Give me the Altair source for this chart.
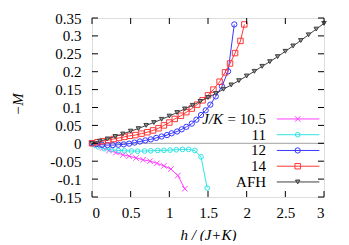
import altair as alt
import pandas as pd

# ---- data (values are -M) ----
h_105 = [0, 0.06, 0.14, 0.22, 0.31, 0.40, 0.48, 0.57, 0.66, 0.75, 0.84, 0.93, 1.02, 1.11, 1.20]
m_105 = [0, -0.006, -0.013, -0.020, -0.026, -0.032, -0.036, -0.041, -0.046, -0.050, -0.056, -0.063, -0.072, -0.090, -0.127]

h_11 = [0, 0.04, 0.08, 0.16, 0.25, 0.34, 0.42, 0.51, 0.59, 0.68, 0.76, 0.85, 0.93, 1.01, 1.09, 1.17, 1.25, 1.33, 1.41, 1.49]
m_11 = [0, -0.005, -0.010, -0.015, -0.018, -0.020, -0.021, -0.0215, -0.022, -0.0215, -0.021, -0.020, -0.0195, -0.019, -0.018, -0.017, -0.017, -0.020, -0.038, -0.125]

h_12 = [0, 0.06, 0.13, 0.20, 0.27, 0.34, 0.41, 0.48, 0.55, 0.62, 0.69, 0.76, 0.83, 0.90, 0.97, 1.03, 1.10, 1.16, 1.22, 1.29, 1.35, 1.41, 1.47, 1.53, 1.60, 1.68, 1.76, 1.84]
m_12 = [0, -0.002, -0.004, -0.005, -0.005, -0.004, -0.003, -0.001, 0.002, 0.005, 0.008, 0.011, 0.015, 0.019, 0.023, 0.028, 0.033, 0.039, 0.046, 0.055, 0.066, 0.079, 0.092, 0.108, 0.131, 0.159, 0.201, 0.332]

h_14 = [0, 0.07, 0.14, 0.21, 0.28, 0.35, 0.42, 0.49, 0.56, 0.64, 0.715, 0.79, 0.86, 0.93, 1.00, 1.07, 1.15, 1.22, 1.29, 1.36, 1.43, 1.50, 1.57, 1.65, 1.72, 1.785, 1.85, 1.92, 1.97]
m_14 = [0, 0.003, 0.006, 0.009, 0.012, 0.015, 0.018, 0.021, 0.023, 0.027, 0.031, 0.036, 0.042, 0.050, 0.058, 0.068, 0.077, 0.087, 0.097, 0.108, 0.120, 0.134, 0.150, 0.172, 0.198, 0.223, 0.252, 0.286, 0.332]

h_afh = [0, 0.1, 0.2, 0.3, 0.4, 0.5, 0.6, 0.7, 0.8, 0.9, 1.0, 1.1, 1.2, 1.3, 1.4, 1.5, 1.6, 1.7, 1.8, 1.9, 2.0,
         2.1, 2.2, 2.3, 2.4, 2.5, 2.6, 2.7, 2.8, 2.9, 3.0]
m_afh = [0, 0.006, 0.012, 0.019, 0.026, 0.034, 0.041, 0.050, 0.058, 0.067, 0.076, 0.086, 0.096, 0.106, 0.117, 0.128,
         0.139, 0.151, 0.163, 0.175, 0.188, 0.201, 0.215, 0.228, 0.242, 0.257, 0.272, 0.287, 0.303, 0.319, 0.335]

legend_labels = ["= 10.5", "11", "12", "14", "AFH"]
legend_y = [0.068, 0.024, -0.020, -0.064, -0.108]
x_ticks = [0, 0.5, 1, 1.5, 2, 2.5, 3]
y_ticks = [-0.15, -0.1, -0.05, 0, 0.05, 0.1, 0.15, 0.2, 0.25, 0.3, 0.35]

FONT = "Liberation Serif"
XS = alt.Scale(domain=[0, 3], nice=False, zero=False)
YS = alt.Scale(domain=[-0.15, 0.35], nice=False, zero=False)

AX_X = alt.Axis(values=x_ticks, format="~g", grid=False, domain=False, ticks=False, tickSize=0,
                labelFont=FONT, labelFontSize=15, labelColor="black", labelPadding=8,
                title="h / (J+K)", titleFont=FONT, titleFontSize=15, titleFontStyle="italic",
                titleFontWeight="normal", titleColor="black", titleX=116, titleY=42,
                titleBaseline="alphabetic", titleAlign="center")
AX_Y = alt.Axis(values=y_ticks, labelExpr="replace(format(datum.value, '.2~f'), '\u2212', '-')",
                grid=False, domain=False, ticks=False, tickSize=0,
                labelFont=FONT, labelFontSize=15, labelColor="black", labelPadding=11,
                title="\u2212M", titleFont=FONT, titleFontSize=15, titleFontStyle="italic",
                titleFontWeight="normal", titleColor="black", titleX=-75, titleY=86,
                titleBaseline="middle", titleAlign="center")


def xe(field="h"):
    return alt.X(f"{field}:Q", scale=XS, axis=AX_X)


def ye(field="m"):
    return alt.Y(f"{field}:Q", scale=YS, axis=AX_Y)


CROSS = "M-1,-1L1,1M-1,1L1,-1"
series = [
    dict(h=h_105, m=m_105, color="#ff40ff", shape=CROSS, size=30, fill="transparent"),
    dict(h=h_11, m=m_11, color="#30e4e4", shape="circle", size=22, fill="transparent"),
    dict(h=h_12, m=m_12, color="#3838ff", shape="circle", size=28, fill="transparent"),
    dict(h=h_14, m=m_14, color="#ff3838", shape="square", size=30, fill="transparent"),
    dict(h=h_afh, m=m_afh, color="#404040", shape="triangle-down", size=20, fill="#909090"),
]

layers = []
# zero line
zero_df = pd.DataFrame({"h": [0], "h2": [3], "m": [0]})
layers.append(alt.Chart(zero_df).mark_rule(color="#a0a0a0", strokeWidth=1).encode(
    x=xe(), x2="h2:Q", y=ye()))

for i, s in enumerate(series):
    df = pd.DataFrame({"h": s["h"], "m": s["m"]})
    layers.append(alt.Chart(df).mark_line(color=s["color"], strokeWidth=1).encode(x=xe(), y=ye()))
    layers.append(alt.Chart(df).mark_point(shape=s["shape"], size=s["size"], stroke=s["color"],
                                           fill=s["fill"], fillOpacity=1, strokeWidth=1, opacity=1)
                  .encode(x=xe(), y=ye()))
    # legend entry
    ldf = pd.DataFrame({"h": [2.39], "h2": [2.94], "hm": [2.66], "m": [legend_y[i]]})
    layers.append(alt.Chart(ldf).mark_rule(color=s["color"], strokeWidth=1).encode(
        x=xe(), x2="h2:Q", y=ye()))
    layers.append(alt.Chart(ldf).mark_point(shape=s["shape"], size=s["size"], stroke=s["color"],
                                            fill=s["fill"], fillOpacity=1, strokeWidth=1, opacity=1)
                  .encode(x=xe("hm"), y=ye()))

# legend text
tdf = pd.DataFrame({"h": [2.251] * 5, "m": legend_y, "t": legend_labels})
layers.append(alt.Chart(tdf).mark_text(align="right", baseline="alphabetic", dy=5, font=FONT,
                                       fontSize=15, color="black")
              .encode(x=xe(), y=ye(), text="t:N"))
jdf = pd.DataFrame({"h": [2.251], "m": [legend_y[0]], "t": ["J/K"]})
layers.append(alt.Chart(jdf).mark_text(align="right", baseline="alphabetic", dy=5, dx=-43, font=FONT,
                                       fontSize=15, fontStyle="italic", color="black")
              .encode(x=xe(), y=ye(), text="t:N"))

# inward ticks on all four sides
tx = 6 / 77.33
ty = 6 / 358.0
yt_l = pd.DataFrame({"h": [0] * len(y_ticks), "h2": [tx] * len(y_ticks), "m": y_ticks})
yt_r = pd.DataFrame({"h": [3 - tx] * len(y_ticks), "h2": [3] * len(y_ticks), "m": y_ticks})
xt_b = pd.DataFrame({"h": x_ticks, "m": [-0.15] * len(x_ticks), "m2": [-0.15 + ty] * len(x_ticks)})
xt_t = pd.DataFrame({"h": x_ticks, "m": [0.35 - ty] * len(x_ticks), "m2": [0.35] * len(x_ticks)})
for d in (yt_l, yt_r):
    layers.append(alt.Chart(d).mark_rule(color="black", strokeWidth=1).encode(x=xe(), x2="h2:Q", y=ye()))
for d in (xt_b, xt_t):
    layers.append(alt.Chart(d).mark_rule(color="black", strokeWidth=1).encode(x=xe(), y=ye(), y2="m2:Q"))

chart = alt.layer(*layers).properties(
    width=232, height=179,
    autosize=alt.AutoSizeParams(type="none"),
    padding={"left": 84, "top": 10, "right": 17, "bottom": 44},
).configure_view(stroke="black", strokeWidth=1).configure(background="white", font=FONT)

chart.save("out.html", embed_options={"renderer": "svg", "actions": False})
